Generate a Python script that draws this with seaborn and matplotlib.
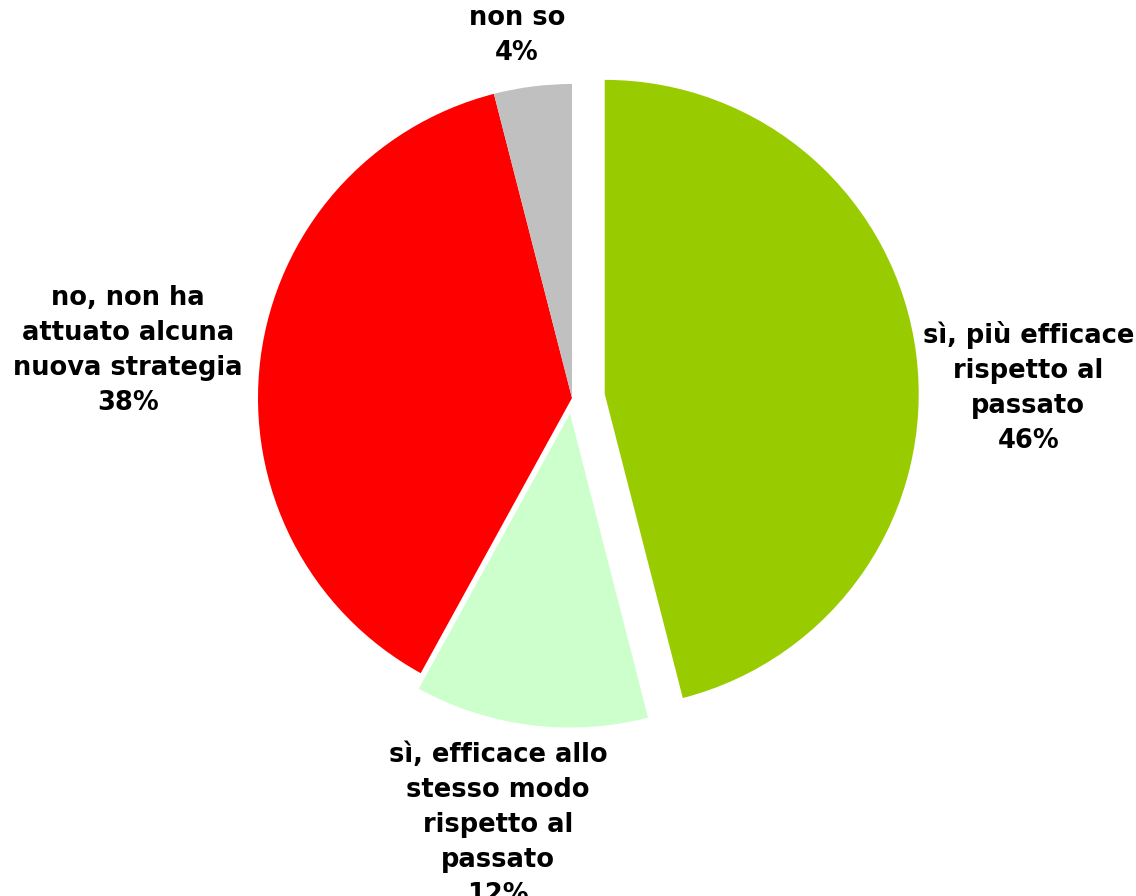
import matplotlib
matplotlib.use("Agg")
import matplotlib.pyplot as plt
import seaborn as sns

# survey answers (clockwise from 12 o'clock)
categories = ["sì, più efficace\nrispetto al\npassato",
              "sì, efficace allo\nstesso modo\nrispetto al\npassato",
              "no, non ha\nattuato alcuna\nnuova strategia",
              "non so"]
shares = [46, 12, 38, 4]
colors = ["#99CC00", "#CCFFCC", "#FF0000", "#C0C0C0"]
explode = [0.105, 0.05, 0, 0]

sns.set_theme(style="white")
plt.rcParams['font.family'] = ['DejaVu Sans']

fig = plt.figure(figsize=(11.36, 8.96), dpi=100)
ax = fig.add_axes([0, 0, 1, 1])

wedges, _ = ax.pie(shares, colors=colors, explode=explode, startangle=90,
                   counterclock=False, radius=1, wedgeprops=dict(linewidth=0))

# label anchors (in units of the pie radius)
label_pos = [(1.453, 0.035), (-0.236, -1.36), (-1.414, 0.150), (-0.175, 1.153)]
for cat, val, (x, y) in zip(categories, shares, label_pos):
    ax.text(x, y, f"{cat}\n{val}%", ha="center", va="center", multialignment="center",
            fontsize=18.5, fontweight="bold", color="black", linespacing=1.45)

# pixel scale: radius ~314 px, centre at (572, 398)
r = 314.0
ax.set_xlim(-572 / r, (1136 - 572) / r)
ax.set_ylim(-(896 - 398) / r, 398 / r)
ax.set_aspect("equal")
ax.axis("off")

fig.savefig("out.png", dpi=100)
